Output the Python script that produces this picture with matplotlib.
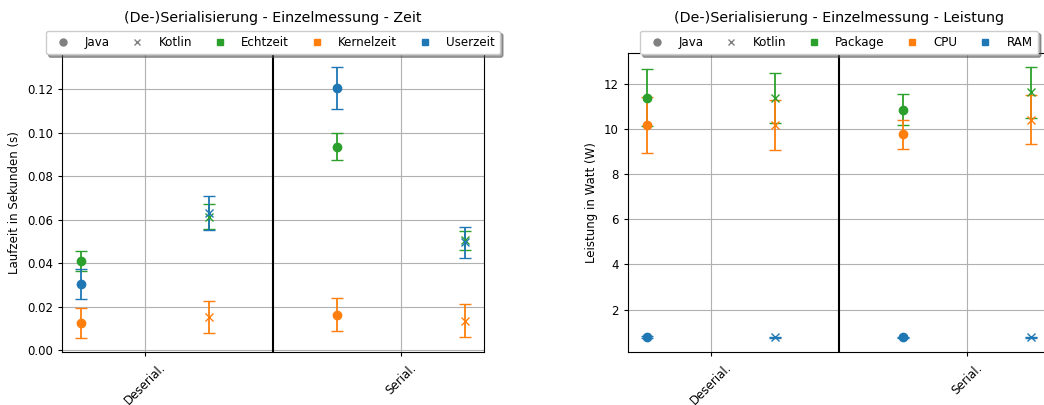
import numpy as np
import matplotlib
matplotlib.use("Agg")
import matplotlib.pyplot as plt
from matplotlib.lines import Line2D

# categories on the x axis
kategorien = ["Deserial.", "Serial."]

# time measurements (seconds), index 0 = Deserial., 1 = Serial.
echtzeit_java = [0.0412, 0.0936]
echtzeit_java_err = [0.0046, 0.0063]
echtzeit_kotlin = [0.0614, 0.0505]
echtzeit_kotlin_err = [0.0058, 0.0044]

kernelzeit_java = [0.0124, 0.0164]
kernelzeit_java_err = [0.0069, 0.0076]
kernelzeit_kotlin = [0.0152, 0.0137]
kernelzeit_kotlin_err = [0.0074, 0.0075]

userzeit_java = [0.0306, 0.1206]
userzeit_java_err = [0.0068, 0.0098]
userzeit_kotlin = [0.0632, 0.0496]
userzeit_kotlin_err = [0.0079, 0.0073]

# power measurements (watt)
package_java = [11.40, 10.87]
package_java_err = [1.27, 0.68]
package_kotlin = [11.37, 11.65]
package_kotlin_err = [1.11, 1.13]

cpu_java = [10.18, 9.77]
cpu_java_err = [1.23, 0.66]
cpu_kotlin = [10.18, 10.43]
cpu_kotlin_err = [1.12, 1.10]

ram_java = [0.79, 0.76]
ram_java_err = [0.05, 0.04]
ram_kotlin = [0.76, 0.76]
ram_kotlin_err = [0.03, 0.03]

GREEN = "tab:green"
ORANGE = "tab:orange"
BLUE = "tab:blue"

# the original looks like a bigger figure scaled down, so everything is a bit smaller
plt.rcParams["font.size"] = 8.5
plt.rcParams["xtick.major.size"] = 3
plt.rcParams["ytick.major.size"] = 3

fig = plt.figure(figsize=(10.44, 4.05), dpi=100)
ax1 = fig.add_axes([0.0594, 0.1309, 0.4042, 0.7383])
ax2 = fig.add_axes([0.6015, 0.1309, 0.4042, 0.7383])

x = np.arange(len(kategorien))


def draw(ax, series, title, ylabel, names):
    for werte, fehler, farbe, marker, off in series:
        ax.errorbar(x + off, werte, yerr=fehler, fmt=marker, color=farbe,
                    capsize=4, markersize=6, elinewidth=1.3)
    ax.axvline(0.5, color="black", linewidth=1.5)
    ax.set_xticks(x)
    ax.set_xticklabels(kategorien, rotation=45)
    ax.grid(True, color="#b0b0b0", linewidth=0.8)
    ax.set_axisbelow(True)
    ax.set_ylabel(ylabel)
    ax.set_title(title, pad=22, fontsize=10.3)

    handles = [
        Line2D([], [], linestyle="none", marker="o", color="grey", markersize=5),
        Line2D([], [], linestyle="none", marker="x", color="grey", markersize=5),
        Line2D([], [], linestyle="none", marker="s", color=GREEN, markersize=5),
        Line2D([], [], linestyle="none", marker="s", color=ORANGE, markersize=5),
        Line2D([], [], linestyle="none", marker="s", color=BLUE, markersize=5),
    ]
    ax.legend(handles, ["Java", "Kotlin"] + names, loc="lower center",
              bbox_to_anchor=(0.5, 0.995), ncol=5, shadow=True,
              borderpad=0.45, columnspacing=1.3, fontsize=8.6,
              borderaxespad=0.0)


zeit = [
    (echtzeit_java, echtzeit_java_err, GREEN, "o", -0.25),
    (echtzeit_kotlin, echtzeit_kotlin_err, GREEN, "x", 0.25),
    (kernelzeit_java, kernelzeit_java_err, ORANGE, "o", -0.25),
    (kernelzeit_kotlin, kernelzeit_kotlin_err, ORANGE, "x", 0.25),
    (userzeit_java, userzeit_java_err, BLUE, "o", -0.25),
    (userzeit_kotlin, userzeit_kotlin_err, BLUE, "x", 0.25),
]
draw(ax1, zeit, "(De-)Serialisierung - Einzelmessung - Zeit",
     "Laufzeit in Sekunden (s)", ["Echtzeit", "Kernelzeit", "Userzeit"])

leistung = [
    (package_java, package_java_err, GREEN, "o", -0.25),
    (package_kotlin, package_kotlin_err, GREEN, "x", 0.25),
    (cpu_java, cpu_java_err, ORANGE, "o", -0.25),
    (cpu_kotlin, cpu_kotlin_err, ORANGE, "x", 0.25),
    (ram_java, ram_java_err, BLUE, "o", -0.25),
    (ram_kotlin, ram_kotlin_err, BLUE, "x", 0.25),
]
draw(ax2, leistung, "(De-)Serialisierung - Einzelmessung - Leistung",
     "Leistung in Watt (W)", ["Package", "CPU", "RAM"])

fig.savefig("out.png", dpi=100)
